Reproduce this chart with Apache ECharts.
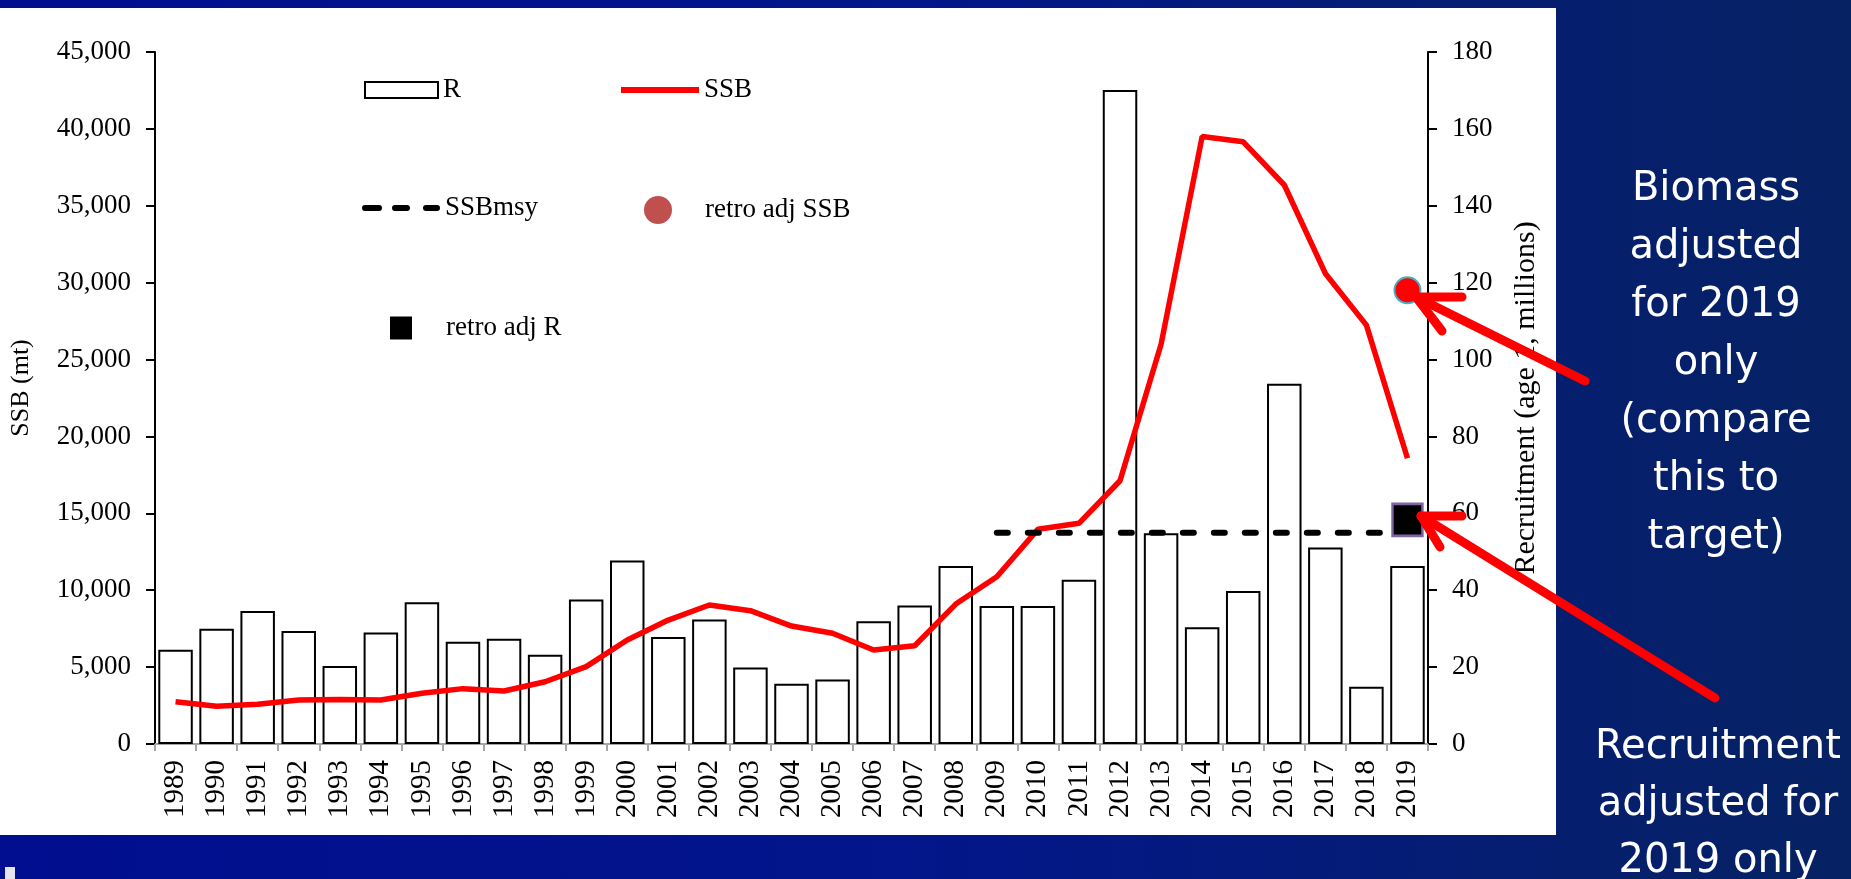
<!DOCTYPE html>
<html><head><meta charset="utf-8">
<script src="https://cdn.jsdelivr.net/npm/echarts@6/dist/echarts.min.js"></script>
<style>
html,body{margin:0;padding:0;width:1851px;height:879px;overflow:hidden;background:linear-gradient(90deg,#000E8F 0%,#03168A 50%,#062262 100%);}
#c{width:1851px;height:879px;}
</style>
</head><body><div id="c"></div>
<script>
// ---- data ----
const years = ['1989','1990','1991','1992','1993','1994','1995','1996','1997','1998','1999','2000','2001','2002','2003','2004','2005','2006','2007','2008','2009','2010','2011','2012','2013','2014','2015','2016','2017','2018','2019'];
// Recruitment (age 1, millions) - right axis
const recruitR = [24.5,30.0,34.6,29.4,20.3,29.0,36.9,26.6,27.4,23.2,37.6,47.7,27.8,32.4,19.9,15.7,16.8,31.9,36.0,46.3,35.9,35.9,42.7,170.1,54.8,30.4,39.8,93.7,51.1,14.9,46.3];
// SSB (mt) - left axis
const ssb = [2750,2450,2580,2860,2900,2860,3300,3600,3450,4050,5030,6760,8060,9040,8670,7670,7200,6110,6390,9100,10880,13960,14350,17120,26000,39500,39160,36350,30600,27240,18580];
// SSBmsy reference line
const ssbMsy = [null,null,null,null,null,null,null,null,null,null,null,null,null,null,null,null,null,null,null,null,13740,13740,13740,13740,13740,13740,13740,13740,13740,13740,13740];
// retrospective adjusted points
const retroSSB = [['2019', 29500]];
const retroR = [['2019', 58.3]];
const leftTicks = {min:0, max:45000, interval:5000};
const rightTicks = {min:0, max:180, interval:20};

const SERIF = 'Liberation Serif';
const chart = echarts.init(document.getElementById('c'), null, {renderer:'canvas'});

const legendBase = {
  selectedMode:false, padding:0, itemGap:0, orient:'horizontal',
  textStyle:{fontFamily:SERIF, fontSize:27, color:'#000', lineHeight:28}
};
const dashIcon = 'path://M3,0h14a3,3 0 0 1 0,6h-14a3,3 0 0 1 0,-6z M33,0h12a3,3 0 0 1 0,6h-12a3,3 0 0 1 0,-6z M64,0h11a3,3 0 0 1 0,6h-11a3,3 0 0 1 0,-6z';

const option = {
  backgroundColor: new echarts.graphic.LinearGradient(0,0,1,0,[
    {offset:0,color:'#000E8F'},{offset:0.5,color:'#03168A'},{offset:1,color:'#062262'}]),
  animation:false,
  grid:{left:153, right:423, top:52, bottom:135},
  legend:[
    Object.assign({}, legendBase, {left:364, top:76, itemWidth:73, itemHeight:16,
      data:[{name:'R', icon:'rect', itemStyle:{color:'#fff', borderColor:'#000', borderWidth:2}}]}),
    Object.assign({}, legendBase, {left:621, top:76, itemWidth:78, itemHeight:6,
      data:[{name:'SSB', icon:'rect', itemStyle:{color:'#FF0000', borderWidth:0}}]}),
    Object.assign({}, legendBase, {left:362, top:194, itemWidth:78, itemHeight:6,
      data:[{name:'SSBmsy', icon:dashIcon, itemStyle:{color:'#000', borderWidth:0}}]}),
    Object.assign({}, legendBase, {left:644, top:196, itemWidth:28, itemHeight:29,
      textStyle:Object.assign({}, legendBase.textStyle, {padding:[0,0,0,28]}),
      data:[{name:'retro adj SSB', icon:'circle', itemStyle:{color:'#C0504D', borderWidth:0}}]}),
    Object.assign({}, legendBase, {left:390, top:314, itemWidth:22, itemHeight:23,
      textStyle:Object.assign({}, legendBase.textStyle, {padding:[0,0,0,29]}),
      data:[{name:'retro adj R', icon:'rect', itemStyle:{color:'#000', borderWidth:0}}]})
  ],
  xAxis:{
    type:'category', data:years, boundaryGap:true,
    axisLine:{show:true, lineStyle:{color:'#A6A6A6', width:2}},
    axisTick:{show:true, length:7, lineStyle:{color:'#A6A6A6', width:2}},
    axisLabel:{rotate:90, fontFamily:SERIF, fontSize:29, color:'#000', margin:16, interval:0},
    splitLine:{show:false}
  },
  yAxis:[
    {type:'value', position:'left', min:leftTicks.min, max:leftTicks.max, interval:leftTicks.interval,
     name:'SSB (mt)', nameLocation:'middle', nameRotate:90, nameGap:121,
     nameTextStyle:{fontFamily:SERIF, fontSize:26, color:'#000', padding:[0,0,0,20]},
     axisLine:{show:true, lineStyle:{color:'#000', width:2}},
     axisTick:{show:true, length:9, lineStyle:{color:'#000', width:2}},
     axisLabel:{fontFamily:SERIF, fontSize:27, color:'#000', margin:24,
       formatter:v=>Number(v).toLocaleString('en-US')},
     splitLine:{show:false}},
    {type:'value', position:'right', min:rightTicks.min, max:rightTicks.max, interval:rightTicks.interval,
     name:'Recruitment (age 1, millions)', nameLocation:'middle', nameRotate:90, nameGap:83,
     nameTextStyle:{fontFamily:SERIF, fontSize:30, color:'#000'},
     axisLine:{show:true, lineStyle:{color:'#000', width:2}},
     axisTick:{show:true, length:9, lineStyle:{color:'#000', width:2}},
     axisLabel:{fontFamily:SERIF, fontSize:27, color:'#000', margin:24},
     splitLine:{show:false}}
  ],
  series:[
    {name:'R', type:'bar', yAxisIndex:1, data:recruitR, barCategoryGap:'16%', z:2,
     itemStyle:{color:'#fff', borderColor:'#000', borderWidth:2}},
    {name:'SSB', type:'line', yAxisIndex:0, data:ssb, symbol:'none', z:3,
     lineStyle:{color:'#FF0000', width:5.5}, itemStyle:{color:'#FF0000'}},
    {name:'SSBmsy', type:'line', yAxisIndex:0, data:ssbMsy, symbol:'none', z:4,
     lineStyle:{color:'#000', width:6, type:[11,20], cap:'round'}, itemStyle:{color:'#000'}},
    {name:'retro adj SSB', type:'scatter', yAxisIndex:0, data:retroSSB, symbol:'circle', symbolSize:26, z:5,
     itemStyle:{color:'#FF0000', borderColor:'#4BACC6', borderWidth:2, opacity:1}},
    {name:'retro adj R', type:'scatter', yAxisIndex:1, data:retroR, symbol:'rect', symbolSize:[30,32], z:5,
     itemStyle:{color:'#000', borderColor:'#8064A2', borderWidth:2.5, opacity:1}}
  ],
  graphic:[
    {type:'rect', z:-10, silent:true, shape:{x:0, y:8, width:1556, height:827}, style:{fill:'#fff'}},
    {type:'rect', z:-10, silent:true, shape:{x:5, y:867, width:10, height:12}, style:{fill:'#E4E4EC'}},
    {type:'text', z:50, silent:true, style:{x:1716, y:161, text:'Biomass\nadjusted\nfor 2019\nonly\n(compare\nthis to\ntarget)',
      fill:'#fff', fontFamily:'DejaVu Sans', fontSize:40, align:'center', verticalAlign:'top', lineHeight:58}},
    {type:'text', z:50, silent:true, style:{x:1718, y:719, text:'Recruitment\nadjusted for\n2019 only',
      fill:'#fff', fontFamily:'DejaVu Sans', fontSize:40, align:'center', verticalAlign:'top', lineHeight:57}},
    {type:'polyline', z:60, silent:true, shape:{points:[[1585,381],[1416,297]]},
      style:{stroke:'#FF0000', lineWidth:9, lineCap:'round', fill:null}},
    {type:'polyline', z:60, silent:true, shape:{points:[[1462,297],[1416,297],[1442,331]]},
      style:{stroke:'#FF0000', lineWidth:9, lineCap:'round', lineJoin:'round', fill:null}},
    {type:'polyline', z:60, silent:true, shape:{points:[[1715,698],[1421,516]]},
      style:{stroke:'#FF0000', lineWidth:9, lineCap:'round', fill:null}},
    {type:'polyline', z:60, silent:true, shape:{points:[[1462,516],[1421,516],[1440,547]]},
      style:{stroke:'#FF0000', lineWidth:9, lineCap:'round', lineJoin:'round', fill:null}}
  ]
};
chart.setOption(option);
</script>
</body></html>
